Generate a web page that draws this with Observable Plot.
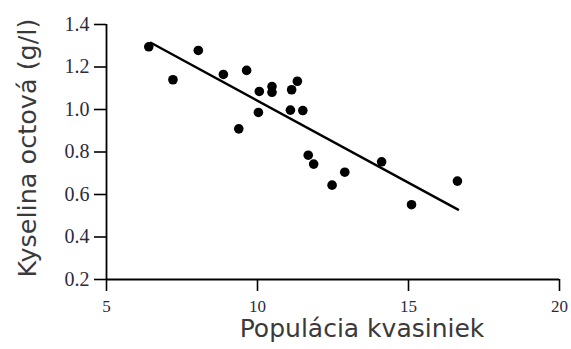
<!DOCTYPE html>
<html>
<head>
<meta charset="utf-8">
<script src="https://cdn.jsdelivr.net/npm/d3@7"></script>
<script src="https://cdn.jsdelivr.net/npm/@observablehq/plot@0.6"></script>
<style>
  html, body { margin: 0; padding: 0; background: #fff; }
</style>
</head>
<body>
<div id="chart"></div>
<script>
// Population of yeast (x) vs acetic acid (y)
const popX = [6.40, 8.04, 7.20, 8.87, 9.64, 10.06, 10.48, 10.48, 10.03, 9.38, 11.32, 11.13, 11.09, 11.50, 11.68, 11.86, 12.89, 12.47, 14.11, 15.10, 16.62];
const acidY = [1.295, 1.278, 1.140, 1.165, 1.184, 1.085, 1.108, 1.081, 0.986, 0.909, 1.133, 1.093, 0.997, 0.995, 0.785, 0.743, 0.705, 0.644, 0.754, 0.552, 0.663];
const fitX = [6.47, 16.64];
const fitY = [1.314, 0.529];
const xTicks = [5, 10, 15, 20];
const yTicks = [0.2, 0.4, 0.6, 0.8, 1.0, 1.2, 1.4];
const xTitle = "Populácia kvasiniek";
const yTitle = "Kyselina octová (g/l)";

const points = popX.map((x, i) => ({x, y: acidY[i]}));
const fit = fitX.map((x, i) => ({x, y: fitY[i]}));

const tickFont = "'Liberation Serif', 'Times New Roman', serif";
const titleFont = "'DejaVu Sans', sans-serif";

const chart = Plot.plot({
  width: 571,
  height: 349,
  marginLeft: 106,
  marginRight: 12,
  marginTop: 24,
  marginBottom: 70,
  style: {background: "#fff", color: "#000", overflow: "visible"},
  x: {domain: [5, 20]},
  y: {domain: [0.2, 1.4]},
  marks: [
    Plot.axisX({ticks: xTicks, tickSize: 12, tickPadding: 8, strokeWidth: 1.6, tickFormat: d => String(d), fontSize: 17, fontFamily: tickFont, fill: "#2b2b40", label: null}),
    Plot.axisY({ticks: yTicks, tickSize: 12, tickPadding: 5, strokeWidth: 1.6, tickFormat: d => d.toFixed(1), fontSize: 20, fontFamily: tickFont, fill: "#2b2b40", label: null}),
    Plot.ruleX([5], {strokeWidth: 1.8}),
    Plot.ruleY([0.2], {strokeWidth: 1.8}),
    Plot.line(fit, {x: "x", y: "y", stroke: "#000", strokeWidth: 2.4}),
    Plot.dot(points, {x: "x", y: "y", r: 4.8, fill: "#000", stroke: "none"}),
    Plot.text([xTitle], {frameAnchor: "bottom", textAnchor: "middle", dx: 29, dy: 57.5, fontSize: 25, fontFamily: titleFont, fill: "#3a3a3a"}),
    Plot.text([yTitle], {frameAnchor: "left", textAnchor: "middle", rotate: -90, dx: -79, dy: -4, fontSize: 25.5, fontFamily: titleFont, fill: "#3a3a3a"})
  ]
});
document.getElementById("chart").appendChild(chart);
</script>
</body>
</html>
